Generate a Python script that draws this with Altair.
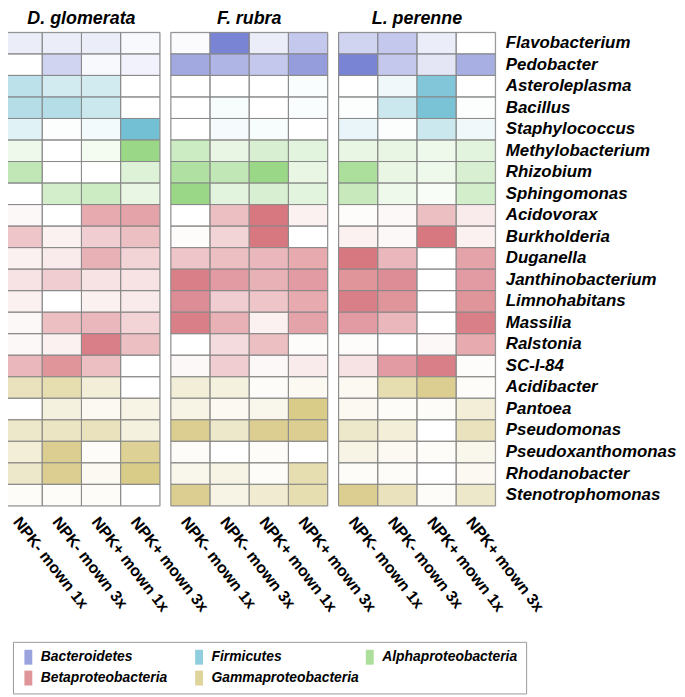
import altair as alt
import pandas as pd

genera = ["Flavobacterium", "Pedobacter", "Asteroleplasma", "Bacillus", "Staphylococcus",
          "Methylobacterium", "Rhizobium", "Sphingomonas", "Acidovorax", "Burkholderia",
          "Duganella", "Janthinobacterium", "Limnohabitans", "Massilia", "Ralstonia", "SC-I-84",
          "Acidibacter", "Pantoea", "Pseudomonas", "Pseudoxanthomonas", "Rhodanobacter",
          "Stenotrophomonas"]
groups = (["Bacteroidetes"] * 2 + ["Firmicutes"] * 3 + ["Alphaproteobacteria"] * 3
          + ["Betaproteobacteria"] * 8 + ["Gammaproteobacteria"] * 6)
treatments = ["NPK- mown 1x", "NPK- mown 3x", "NPK+ mown 1x", "NPK+ mown 3x"]
species = ["D. glomerata", "F. rubra", "L. perenne"]
# legend fills column by column: (Bacteroidetes, Betaproteobacteria), (Firmicutes, Gammaproteobacteria), (Alphaproteobacteria)
group_order = ["Bacteroidetes", "Betaproteobacteria", "Firmicutes",
               "Gammaproteobacteria", "Alphaproteobacteria"]
group_colors = ["#7a84d4", "#d5717a", "#6bbcd2", "#d5c67c", "#8fd47a"]

d_glomerata = [
    [0.15, 0.15, 0.15, 0.05], [0.0, 0.35, 0.05, 0.1], [0.45, 0.3, 0.3, 0.0],
    [0.5, 0.5, 0.35, 0.0], [0.2, 0.02, 0.08, 0.95], [0.15, 0.0, 0.1, 0.9],
    [0.55, 0.0, 0.0, 0.3], [0.0, 0.4, 0.45, 0.2], [0.05, 0.0, 0.6, 0.65],
    [0.4, 0.1, 0.35, 0.45], [0.1, 0.15, 0.55, 0.3], [0.2, 0.35, 0.2, 0.2],
    [0.1, 0.0, 0.1, 0.15], [0.05, 0.45, 0.5, 0.3], [0.05, 0.1, 0.9, 0.45],
    [0.5, 0.75, 0.45, 0.0], [0.5, 0.6, 0.3, 0.0], [0.0, 0.25, 0.1, 0.2],
    [0.4, 0.45, 0.5, 0.25], [0.3, 0.85, 0.05, 0.8], [0.4, 0.85, 0.1, 0.9],
    [0.05, 0.05, 0.05, 0.0]]
f_rubra = [
    [0.03, 1.0, 0.15, 0.45], [0.7, 0.6, 0.45, 0.8], [0.0, 0.0, 0.0, 0.03],
    [0.0, 0.05, 0.0, 0.03], [0.0, 0.07, 0.05, 0.0], [0.45, 0.2, 0.35, 0.25],
    [0.7, 0.55, 0.9, 0.2], [0.9, 0.25, 0.35, 0.25], [0.0, 0.45, 0.95, 0.1],
    [0.03, 0.3, 0.95, 0.0], [0.4, 0.45, 0.5, 0.6], [0.9, 0.7, 0.55, 0.7],
    [0.8, 0.35, 0.4, 0.6], [0.9, 0.55, 0.1, 0.65], [0.0, 0.25, 0.45, 0.03],
    [0.05, 0.35, 0.05, 0.15], [0.3, 0.25, 0.05, 0.1], [0.2, 0.1, 0.15, 0.9],
    [0.85, 0.4, 0.85, 0.85], [0.05, 0.0, 0.05, 0.0], [0.15, 0.2, 0.05, 0.6],
    [0.85, 0.2, 0.35, 0.6]]
l_perenne = [
    [0.35, 0.45, 0.15, 0.0], [1.0, 0.45, 0.2, 0.65], [0.0, 0.1, 0.85, 0.0],
    [0.02, 0.35, 0.9, 0.02], [0.15, 0.02, 0.35, 0.1], [0.2, 0.2, 0.15, 0.25],
    [0.75, 0.2, 0.15, 0.35], [0.5, 0.15, 0.05, 0.4], [0.03, 0.05, 0.45, 0.15],
    [0.1, 0.05, 0.95, 0.1], [0.95, 0.5, 0.0, 0.65], [0.75, 0.8, 0.0, 0.7],
    [0.9, 0.75, 0.0, 0.75], [0.7, 0.5, 0.0, 0.9], [0.03, 0.0, 0.05, 0.6],
    [0.2, 0.7, 0.9, 0.03], [0.1, 0.6, 0.85, 0.05], [0.1, 0.05, 0.05, 0.3],
    [0.4, 0.3, 0.0, 0.5], [0.2, 0.1, 0.05, 0.15], [0.05, 0.05, 0.0, 0.1],
    [0.85, 0.5, 0.05, 0.4]]
values = [d_glomerata, f_rubra, l_perenne]

rows = []
for sp, mat in zip(species, values):
    for g, grp, vals in zip(genera, groups, mat):
        for t, v in zip(treatments, vals):
            rows.append({"species": sp, "genus": g, "group": grp, "treatment": t, "value": v})
df = pd.DataFrame(rows)

FONT = "Liberation Sans"


def panel(sp, show_y):
    yaxis = alt.Axis(orient="right", labelFont=FONT, labelFontSize=17,
                     labelFontWeight="bold", labelFontStyle="italic", labelColor="black",
                     ticks=False, domain=False, labelPadding=10, title=None) if show_y else None
    return alt.Chart(df[df.species == sp]).mark_rect(
        stroke="#8a8a8a", strokeWidth=1
    ).encode(
        x=alt.X("treatment:N", sort=treatments,
                axis=alt.Axis(labelAngle=52, labelAlign="left", labelBaseline="top",
                              labelFont=FONT, labelFontSize=16, labelFontWeight="bold",
                              labelColor="black", ticks=False, domain=False,
                              labelPadding=8, title=None)),
        y=alt.Y("genus:N", sort=genera, axis=yaxis),
        color=alt.Color("group:N",
                        scale=alt.Scale(domain=group_order, range=group_colors),
                        legend=alt.Legend(title=None, orient="none", legendX=10, legendY=614,
                                          columns=3, gridAlign="all",
                                          symbolType="M-0.53,-1H0.53V1H-0.53Z",
                                          symbolSize=225,
                                          symbolOpacity=0.75, symbolStrokeWidth=0,
                                          labelFont=FONT, labelFontSize=14,
                                          labelFontWeight="bold", labelFontStyle="italic",
                                          labelColor="black", labelOffset=5,
                                          columnPadding=3, rowPadding=6, padding=8,
                                          strokeColor="#999999", labelLimit=300)),
        fillOpacity=alt.FillOpacity("value:Q", scale=alt.Scale(domain=[0, 1], range=[0, 1]),
                                    legend=None),
    ).properties(
        width=158, height=477,
        title=alt.TitleParams(sp, font=FONT, fontSize=18, fontWeight="bold",
                              fontStyle="italic", color="black", offset=4)
    )


chart = alt.hconcat(
    panel(species[0], False), panel(species[1], False), panel(species[2], True),
    spacing=11, bounds="flush"
).properties(
    padding={"left": -6, "top": -2, "right": 0, "bottom": 0}
).configure_view(stroke="#8a8a8a").configure(background="white")

chart.save("out.html", embed_options={"renderer": "svg", "actions": False})
